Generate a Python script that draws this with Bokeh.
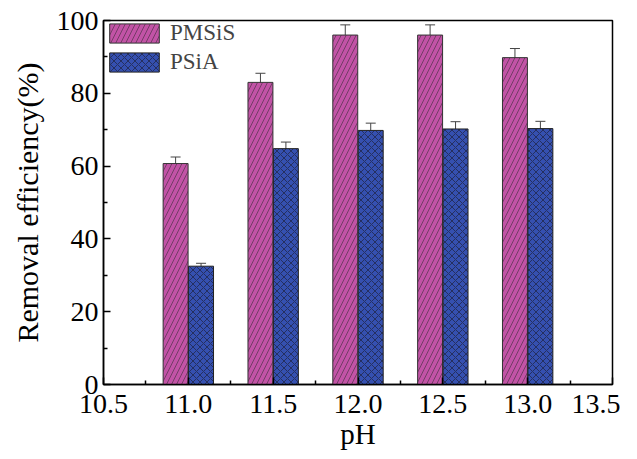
from bokeh.plotting import figure
from bokeh.models import ColumnDataSource, Whisker, Legend, LegendItem, FixedTicker, NumeralTickFormatter, Range1d
from bokeh.embed import file_html
from bokeh.resources import INLINE

ph = [11.0, 11.5, 12.0, 12.5, 13.0]
pmsis = [60.7, 83.0, 96.0, 96.0, 89.8]
pmsis_err = [1.8, 2.5, 2.8, 2.8, 2.5]
psia = [32.5, 64.8, 69.8, 70.2, 70.3]
psia_err = [0.8, 1.8, 2.0, 2.0, 2.0]
x_ticks = [10.5, 11.0, 11.5, 12.0, 12.5, 13.0, 13.5]
y_ticks = [0, 20, 40, 60, 80, 100]

off = 0.075
bw = 0.147
font = "Liberation Serif"

s1 = ColumnDataSource(dict(x=[v - off for v in ph], top=pmsis,
                           lo=[a - b for a, b in zip(pmsis, pmsis_err)],
                           hi=[a + b for a, b in zip(pmsis, pmsis_err)]))
s2 = ColumnDataSource(dict(x=[v + off for v in ph], top=psia,
                           lo=[a - b for a, b in zip(psia, psia_err)],
                           hi=[a + b for a, b in zip(psia, psia_err)]))

p = figure(width=620, height=452, output_backend="svg", toolbar_location=None,
           x_range=Range1d(10.5, 13.5), y_range=Range1d(0, 100),
           min_border_left=103, min_border_right=8, min_border_top=20, min_border_bottom=66)
p.xgrid.visible = False
p.ygrid.visible = False
p.outline_line_color = "black"
p.outline_line_width = 1.5
p.outline_line_alpha = 1

r1 = p.vbar(x="x", top="top", width=bw, source=s1, fill_color="#C253A6",
            line_color="#333333", line_width=1, hatch_pattern="right_diagonal_line",
            hatch_color="#222222", hatch_alpha=0.7, hatch_scale=10, hatch_weight=0.7)
r2 = p.vbar(x="x", top="top", width=bw, source=s2, fill_color="#3550B0",
            line_color="#222222", line_width=1, hatch_pattern="diagonal_cross",
            hatch_color="#1a1a2a", hatch_alpha=0.85, hatch_scale=7, hatch_weight=0.7)

for s in (s1, s2):
    w = Whisker(base="x", lower="lo", upper="hi", source=s, line_color="#444444", line_width=1)
    w.upper_head.size = 10
    w.lower_head.size = 10
    w.upper_head.line_color = "#444444"
    w.lower_head.line_color = "#444444"
    p.add_layout(w)

for ax in (p.xaxis[0], p.yaxis[0]):
    ax.major_tick_in = 7
    ax.major_tick_out = 0
    ax.minor_tick_in = 4
    ax.minor_tick_out = 0
    ax.axis_line_width = 1.5
    ax.major_tick_line_width = 1.5
    ax.minor_tick_line_width = 1.5
    ax.major_label_text_font = font
    ax.major_label_text_font_size = "28px"
    ax.major_label_text_color = "black"
    ax.axis_label_text_font = font
    ax.axis_label_text_font_style = "normal"
    ax.axis_label_text_color = "black"

p.xaxis.ticker = FixedTicker(ticks=x_ticks, minor_ticks=[10.75, 11.25, 11.75, 12.25, 12.75, 13.25])
p.xaxis.formatter = NumeralTickFormatter(format="0.0")
p.yaxis.ticker = FixedTicker(ticks=y_ticks, minor_ticks=[10, 30, 50, 70, 90])
p.xaxis.axis_label = "pH"
p.yaxis.axis_label = "Removal efficiency(%)"
p.xaxis.axis_label_text_font_size = "29px"
p.yaxis.axis_label_text_font_size = "30px"
p.xaxis.major_label_standoff = 10
p.yaxis.major_label_standoff = 5
p.xaxis.axis_label_standoff = 2
p.yaxis.axis_label_standoff = 10

legend = Legend(items=[LegendItem(label="PMSiS", renderers=[r1]),
                       LegendItem(label="PSiA", renderers=[r2])],
                location="top_left", border_line_alpha=0, background_fill_alpha=0,
                label_text_font=font, label_text_font_size="23px",
                glyph_width=62, glyph_height=24, spacing=3, padding=0,
                label_standoff=5, label_height=24)
legend.margin = 0
p.add_layout(legend)

open("out.html", "w").write(file_html(p, INLINE))
